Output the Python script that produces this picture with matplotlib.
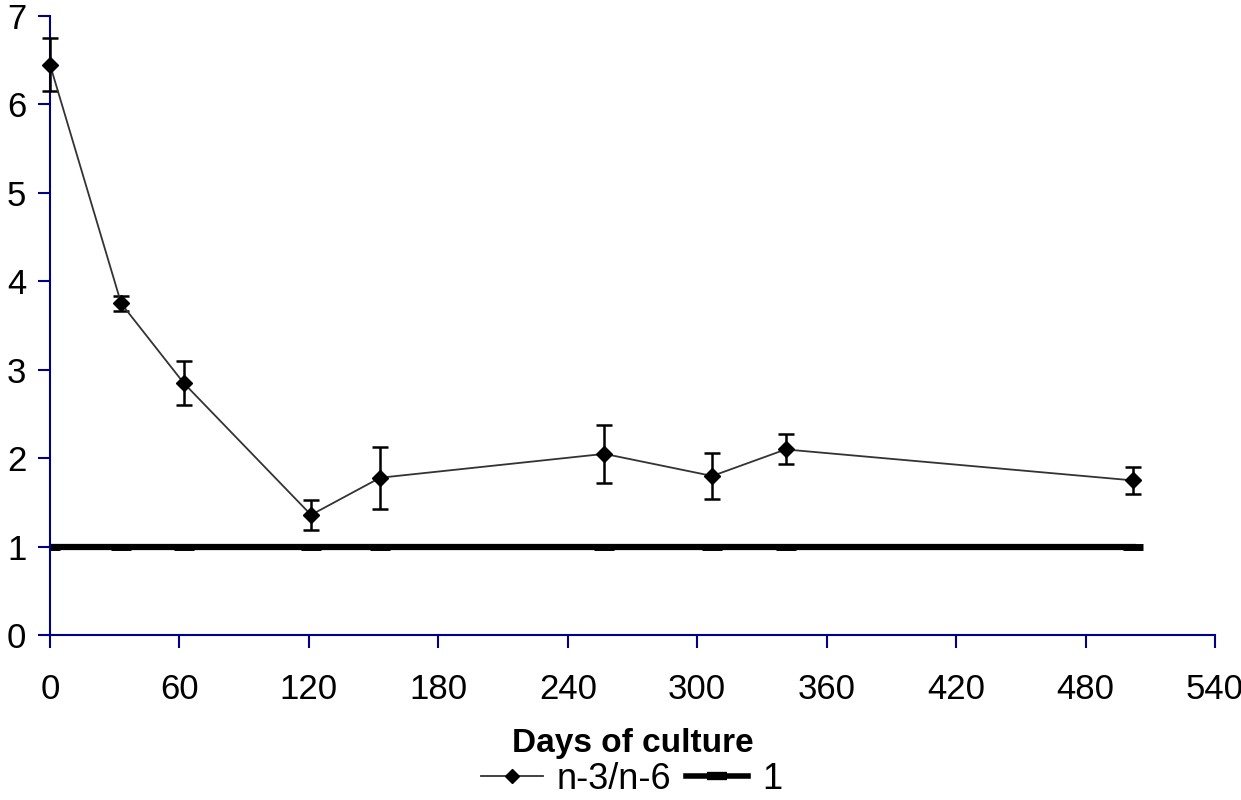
import matplotlib.pyplot as plt
from matplotlib.lines import Line2D

# ratio n-3/n-6 over days of culture
days = [0, 33, 62, 121, 153, 257, 307, 341, 502]
ratio = [6.45, 3.75, 2.85, 1.36, 1.78, 2.05, 1.80, 2.10, 1.75]
err = [0.30, 0.09, 0.25, 0.17, 0.35, 0.33, 0.26, 0.17, 0.15]
ref_line = [1, 1, 1, 1, 1, 1, 1, 1, 1]

xticks = [0, 60, 120, 180, 240, 300, 360, 420, 480, 540]
yticks = [0, 1, 2, 3, 4, 5, 6, 7]

plt.rcParams['font.family'] = ['Liberation Sans', 'DejaVu Sans']

fig = plt.figure(figsize=(12.41, 8), dpi=100)
ax = fig.add_axes([0.0403, 0.206, 0.9387, 0.774])

axis_col = '#00008b'

# the reference line at 1
ax.plot(days, ref_line, color='black', lw=4.5, marker='_', ms=14, mew=5,
        zorder=2)

# main series with error bars
ax.errorbar(days, ratio, yerr=err, color='#333333', lw=1.3, marker='D',
            ms=8.5, mfc='black', mec='black', ecolor='black', elinewidth=1.8,
            capsize=6, capthick=1.8, zorder=3, clip_on=False)

ax.set_xlim(0, 540)
ax.set_ylim(0, 7)
ax.set_xticks(xticks)
ax.set_yticks(yticks)

for s in ['top', 'right']:
    ax.spines[s].set_visible(False)
for s in ['left', 'bottom']:
    ax.spines[s].set_color(axis_col)
    ax.spines[s].set_linewidth(1.5)

ax.tick_params(axis='both', direction='out', length=9, width=1.5,
               color=axis_col, labelsize=25, labelcolor='black')
ax.tick_params(axis='x', pad=18)
ax.tick_params(axis='y', pad=8)

ax.set_xlabel('Days of culture', fontsize=24, fontweight='bold', labelpad=16)

# legend without error bars, like the original
h1 = Line2D([], [], color='#333333', lw=1.3, marker='D', ms=7,
            mfc='black', mec='black')
h2 = Line2D([], [], color='black', lw=4, marker='_', ms=14, mew=6)
fig.legend([h1, h2], ['n-3/n-6', '1'], loc='center',
           bbox_to_anchor=(0.509, 0.026), ncol=2, frameon=False, fontsize=26,
           handlelength=1.7, columnspacing=0.4, handletextpad=0.4,
           borderaxespad=0, borderpad=0)

fig.savefig('out.png', dpi=100)
